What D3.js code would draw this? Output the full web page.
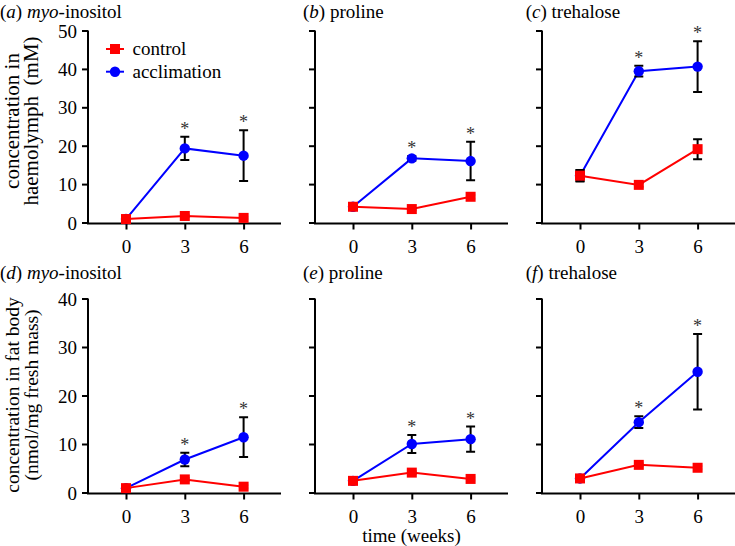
<!DOCTYPE html>
<html><head><meta charset="utf-8">
<script src="https://cdn.jsdelivr.net/npm/d3@7"></script>
<style>
html,body{margin:0;padding:0;background:#fff;}
svg text{font-family:'Liberation Serif','Tinos','DejaVu Serif','Times',serif !important;fill:#000;}
</style></head>
<body><svg id="chart" width="735" height="546"></svg>
<script>
// ---- data ----
const weeks = [0, 3, 6];
const panelLetters = ["a", "b", "c", "d", "e", "f"];
const panelNames = ["myo-inositol", "proline", "trehalose", "myo-inositol", "proline", "trehalose"];
const controlMean = [[0.9, 1.7, 1.2], [4.1, 3.5, 6.7], [12.2, 9.8, 19.1], [0.9, 2.7, 1.2], [2.4, 4.1, 2.8], [2.9, 5.7, 5.1]];
const controlErr  = [[0.2, 0.3, 0.3], [0.3, 0.3, 0.5], [1.5, 0.5, 2.6], [0.2, 0.3, 0.3], [0.2, 0.3, 0.3], [0.2, 0.3, 0.3]];
const acclMean = [[0.9, 19.3, 17.4], [4.1, 16.7, 16.0], [12.2, 39.4, 40.6], [0.9, 6.8, 11.4], [2.4, 10.0, 11.0], [2.9, 14.5, 24.9]];
const acclErr  = [[0.2, 3.0, 6.6], [0.3, 0.6, 5.0], [1.4, 1.4, 6.6], [0.2, 1.4, 4.1], [0.2, 1.85, 2.6], [0.2, 1.2, 7.8]];
const acclSig  = [[false, true, true], [false, true, true], [false, true, true], [false, true, true], [false, true, true], [false, true, true]];
const yTicksTop = [0, 10, 20, 30, 40, 50];
const yTicksBottom = [0, 10, 20, 30, 40];
const xTickLabels = ["0", "3", "6"];
const seriesNames = ["control", "acclimation"];
const yLabelTop = ["concentration in", "haemolymph\u00a0 (mM)"];
const yLabelBottom = ["concentration in fat body", "(nmol/mg fresh mass)"];
const xLabel = "time (weeks)";

// ---- layout ----
const FONT = "'Liberation Serif','Tinos','DejaVu Serif','Times',serif";
const svg = d3.select("#chart");
const colX = [88, 315, 542];
const axisW = 193;
const rows = [{y0: 222.5, y1: 30.5, max: 50, ticks: yTicksTop, lblSize: 21, lblCy: 121},
              {y0: 492.5, y1: 298.5, max: 40, ticks: yTicksBottom, lblSize: 19.5, lblCy: 395}];
const titleX = [0, 303, 525.7];
const titleBase = [18, 279];
const RED = "#ff0000", BLUE = "#0000ff";

for (let p = 0; p < 6; p++) {
  const r = Math.floor(p / 3), c = p % 3;
  const row = rows[r], x0 = colX[c];
  const x = d3.scaleLinear().domain([-38 / 19.6, (axisW - 38) / 19.6]).range([x0, x0 + axisW]);
  const y = d3.scaleLinear().domain([0, row.max]).range([row.y0, row.y1]);
  const g = svg.append("g");

  // y axis
  const ya = d3.axisLeft(y).tickValues(row.ticks).tickSize(5).tickSizeOuter(0)
    .tickFormat(c === 0 ? d3.format("d") : () => "");
  const yg = g.append("g").attr("transform", `translate(${x0},0)`).call(ya).attr("font-family", FONT);
  yg.select(".domain").attr("stroke", "#000").attr("stroke-width", 2).attr("d", `M0,${row.y0 + 1}V${row.y1}`);
  yg.selectAll(".tick line").attr("stroke", "#000").attr("stroke-width", 2).attr("x2", -6);
  yg.selectAll(".tick text").attr("x", -11).attr("dy", "0.35em").style("font-size", "19px");

  // x axis
  const xa = d3.axisBottom(x).tickValues(weeks).tickSize(6).tickSizeOuter(0).tickFormat((d, i) => xTickLabels[i]);
  const xg = g.append("g").attr("transform", `translate(0,${row.y0 + 1})`).call(xa).attr("font-family", FONT);
  xg.select(".domain").attr("stroke", "#000").attr("stroke-width", 2).attr("d", `M${x0 - 1},0H${x0 + axisW}`);
  xg.selectAll(".tick line").attr("stroke", "#000").attr("stroke-width", 2);
  xg.selectAll(".tick text").attr("y", 29).attr("dy", 0).style("font-size", "19px");

  // title
  const t = g.append("text").attr("x", titleX[c]).attr("y", titleBase[r]).style("font-size", "19px");
  t.append("tspan").text("(");
  t.append("tspan").style("font-style", "italic").text(panelLetters[p]);
  t.append("tspan").text(") ");
  const nm = panelNames[p];
  if (nm.startsWith("myo-")) {
    t.append("tspan").style("font-style", "italic").text("myo");
    t.append("tspan").text(nm.slice(3));
  } else t.append("tspan").text(nm);

  const line = d3.line().x((d, i) => x(weeks[i])).y(d => y(d));
  const drawErr = (means, errs) => {
    means.forEach((m, i) => {
      const e = errs[i], cx = x(weeks[i]);
      g.append("path").attr("fill", "none").attr("stroke", "#000").attr("stroke-width", 2)
        .attr("d", `M${cx},${y(m + e)}V${y(m - e)}M${cx - 4.5},${y(m + e)}H${cx + 4.5}M${cx - 4.5},${y(m - e)}H${cx + 4.5}`);
    });
  };
  // acclimation series
  g.append("path").datum(acclMean[p]).attr("fill", "none").attr("stroke", BLUE).attr("stroke-width", 2).attr("d", line);
  drawErr(acclMean[p], acclErr[p]);
  g.selectAll(null).data(acclMean[p]).enter().append("circle")
    .attr("cx", (d, i) => x(weeks[i])).attr("cy", d => y(d)).attr("r", 5.2).attr("fill", BLUE);
  // control series
  g.append("path").datum(controlMean[p]).attr("fill", "none").attr("stroke", RED).attr("stroke-width", 2).attr("d", line);
  drawErr(controlMean[p], controlErr[p]);
  g.selectAll(null).data(controlMean[p]).enter().append("rect")
    .attr("x", (d, i) => x(weeks[i]) - 5).attr("y", d => y(d) - 5).attr("width", 10).attr("height", 10).attr("fill", RED);
  // significance stars
  acclMean[p].forEach((m, i) => {
    if (!acclSig[p][i]) return;
    g.append("text").attr("x", x(weeks[i])).attr("y", y(m + acclErr[p][i]) - 2)
      .attr("text-anchor", "middle").style("font-size", "18px").style("fill", "#333").text("*");
  });

  // y labels
  if (c === 0) {
    const lbl = r === 0 ? yLabelTop : yLabelBottom;
    [19, 38].forEach((bx, k) => {
      g.append("text").attr("transform", `translate(${bx},${row.lblCy}) rotate(-90)`).attr("text-anchor", "middle")
        .style("font-size", row.lblSize + "px").text(lbl[k]);
    });
  }
}

// legend
const lg = svg.append("g");
[[49, RED, "rect"], [71.7, BLUE, "circle"]].forEach(([ly, col, shape], k) => {
  lg.append("line").attr("x1", 106).attr("x2", 124).attr("y1", ly).attr("y2", ly).attr("stroke", col).attr("stroke-width", 2);
  if (shape === "rect") lg.append("rect").attr("x", 110).attr("y", ly - 5).attr("width", 10).attr("height", 10).attr("fill", col);
  else lg.append("circle").attr("cx", 115).attr("cy", ly).attr("r", 5.2).attr("fill", col);
  lg.append("text").attr("x", 132.5).attr("y", ly + 6).style("font-size", "19px").text(seriesNames[k]);
});

// x label
svg.append("text").attr("x", 411.5).attr("y", 542).attr("text-anchor", "middle").style("font-size", "19px").text(xLabel);
</script>
</body></html>
